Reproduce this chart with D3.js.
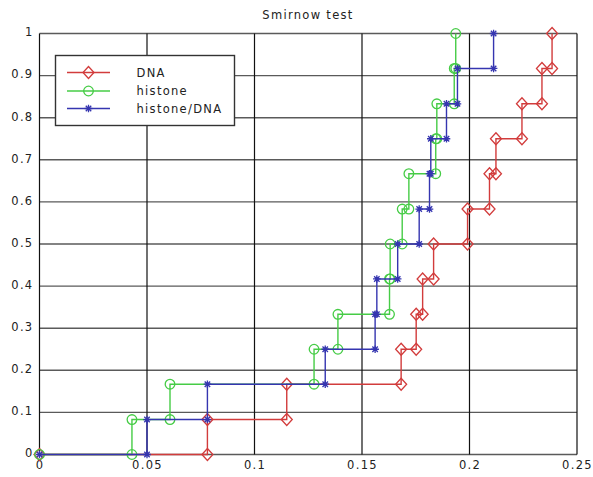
<!DOCTYPE html>
<html>
<head>
<meta charset="utf-8">
<script src="https://cdn.jsdelivr.net/npm/d3@7"></script>
<style>
  body { margin: 0; background: #fff; }
  text { font-family: "DejaVu Sans", sans-serif; fill: #222; }
</style>
</head>
<body>
<div id="chart"></div>
<script>
// sorted sample values (one per step)
var dnaX     = [0.0781, 0.1150, 0.1682, 0.1752, 0.1782, 0.1833, 0.1991, 0.2093, 0.2123, 0.2244, 0.2337, 0.2384];
var histoneX = [0.0430, 0.0607, 0.1277, 0.1388, 0.1628, 0.1631, 0.1687, 0.1718, 0.1843, 0.1848, 0.1929, 0.1936];
var ratioX   = [0.0500, 0.0781, 0.1329, 0.1561, 0.1569, 0.1666, 0.1766, 0.1814, 0.1820, 0.1893, 0.1944, 0.2112];
// cumulative levels of the empirical cdf
var cdfLevels = [0, 0.083, 0.167, 0.25, 0.333, 0.417, 0.5, 0.583, 0.667, 0.75, 0.833, 0.917, 1];

var seriesNames = ["DNA", "histone", "histone/DNA"];
var xTicks = [0, 0.05, 0.1, 0.15, 0.2, 0.25];
var xTickLabels = ["0", "0.05", "0.1", "0.15", "0.2", "0.25"];
var yTicks = [0, 0.1, 0.2, 0.3, 0.4, 0.5, 0.6, 0.7, 0.8, 0.9, 1];
var yTickLabels = ["0", "0.1", "0.2", "0.3", "0.4", "0.5", "0.6", "0.7", "0.8", "0.9", "1"];

var width = 593, height = 477;
var margin = {top: 33.5, right: 16, bottom: 22.5, left: 39.5};

var series = [
  {name: seriesNames[0], xs: dnaX,     color: "#d23c3c", marker: "diamond"},
  {name: seriesNames[1], xs: histoneX, color: "#46cc46", marker: "circle"},
  {name: seriesNames[2], xs: ratioX,   color: "#3535b0", marker: "star"}
];

// stair vertices: start at (0, 0), then up at each sample
function stairPoints(xs) {
  var pts = [[0, cdfLevels[0]]];
  xs.forEach(function(v, i) {
    pts.push([v, cdfLevels[i]]);
    pts.push([v, cdfLevels[i + 1]]);
  });
  return pts;
}

var svg = d3.select("#chart").append("svg")
  .attr("width", width)
  .attr("height", height);

var x = d3.scaleLinear().domain([0, 0.25]).range([margin.left, width - margin.right]);
var y = d3.scaleLinear().domain([0, 1]).range([height - margin.bottom, margin.top]);

// grid
svg.append("g").selectAll("line")
  .data(yTicks)
  .enter().append("line")
  .attr("x1", x(0)).attr("x2", x(0.25))
  .attr("y1", function(d) { return y(d); })
  .attr("y2", function(d) { return y(d); })
  .style("stroke", "#5a5a5a")
  .style("stroke-width", 1.4);

svg.append("g").selectAll("line")
  .data(xTicks)
  .enter().append("line")
  .attr("x1", function(d) { return x(d); })
  .attr("x2", function(d) { return x(d); })
  .attr("y1", y(0)).attr("y2", y(1))
  .style("stroke", "#111")
  .style("stroke-width", 1.2);

// tick labels
var xAxis = d3.axisBottom(x).tickValues(xTicks).tickSize(0).tickPadding(6)
  .tickFormat(function(d, i) { return xTickLabels[i]; });
var gx = svg.append("g").attr("transform", "translate(0," + y(0) + ")").call(xAxis);
gx.select(".domain").remove();
gx.selectAll("text").style("font-size", "11.5px").style("letter-spacing", "1.3px")
  .style("font-family", "DejaVu Sans").attr("fill", "#222");

var yAxis = d3.axisLeft(y).tickValues(yTicks).tickSize(0).tickPadding(6)
  .tickFormat(function(d, i) { return yTickLabels[i]; });
var gy = svg.append("g").attr("transform", "translate(" + x(0) + ",0)").call(yAxis);
gy.select(".domain").remove();
gy.selectAll("text").style("font-size", "11.5px").style("letter-spacing", "1.3px")
  .style("font-family", "DejaVu Sans").attr("fill", "#222").attr("dy", "0.2em");

// title
svg.append("text")
  .attr("x", 308).attr("y", 19)
  .attr("text-anchor", "middle")
  .style("font-size", "11.5px")
  .style("letter-spacing", "1.3px")
  .text("Smirnow test");

var line = d3.line()
  .x(function(d) { return x(d[0]); })
  .y(function(d) { return y(d[1]); });

function drawMarker(g, px, py, kind, color) {
  if (kind === "diamond") {
    g.append("path")
      .attr("d", "M" + px + "," + (py - 6) + "L" + (px + 5.5) + "," + py + "L" + px + "," + (py + 6) + "L" + (px - 5.5) + "," + py + "Z")
      .style("fill", "none").style("stroke", color).style("stroke-width", 1.3);
  } else if (kind === "circle") {
    g.append("circle").attr("cx", px).attr("cy", py).attr("r", 4.8)
      .style("fill", "none").style("stroke", color).style("stroke-width", 1.3);
  } else {
    var r = 3.8, d = r * 0.72;
    g.append("path")
      .attr("d", "M" + (px - r) + "," + py + "L" + (px + r) + "," + py +
                 "M" + px + "," + (py - r) + "L" + px + "," + (py + r) +
                 "M" + (px - d) + "," + (py - d) + "L" + (px + d) + "," + (py + d) +
                 "M" + (px - d) + "," + (py + d) + "L" + (px + d) + "," + (py - d))
      .style("fill", "none").style("stroke", color).style("stroke-width", 1.3);
  }
}

// draw stairs with markers at every vertex
series.forEach(function(s) {
  var pts = stairPoints(s.xs);
  var g = svg.append("g");
  g.append("path")
    .datum(pts)
    .attr("d", line)
    .style("fill", "none")
    .style("stroke", s.color)
    .style("stroke-width", 1.4);
  pts.forEach(function(p) { drawMarker(g, x(p[0]), y(p[1]), s.marker, s.color); });
});

// legend
var legend = svg.append("g");
legend.append("rect")
  .attr("x", 55.5).attr("y", 55.5)
  .attr("width", 179).attr("height", 70)
  .style("fill", "#fff")
  .style("stroke", "#333")
  .style("stroke-width", 1.4);

var entries = legend.selectAll("g.legend-entry")
  .data(series)
  .enter().append("g")
  .classed("legend-entry", true)
  .attr("transform", function(d, i) { return "translate(0," + [72.5, 91, 108.5][i] + ")"; });

entries.append("line")
  .attr("x1", 67).attr("x2", 110).attr("y1", 0).attr("y2", 0)
  .style("stroke", function(d) { return d.color; })
  .style("stroke-width", 1.4);
entries.each(function(d) { drawMarker(d3.select(this), 88.5, 0, d.marker, d.color); });
entries.append("text")
  .attr("x", 136.5).attr("y", 0).attr("dy", "0.35em")
  .style("font-size", "11.5px")
  .style("letter-spacing", "1.3px")
  .text(function(d) { return d.name; });
</script>
</body>
</html>
